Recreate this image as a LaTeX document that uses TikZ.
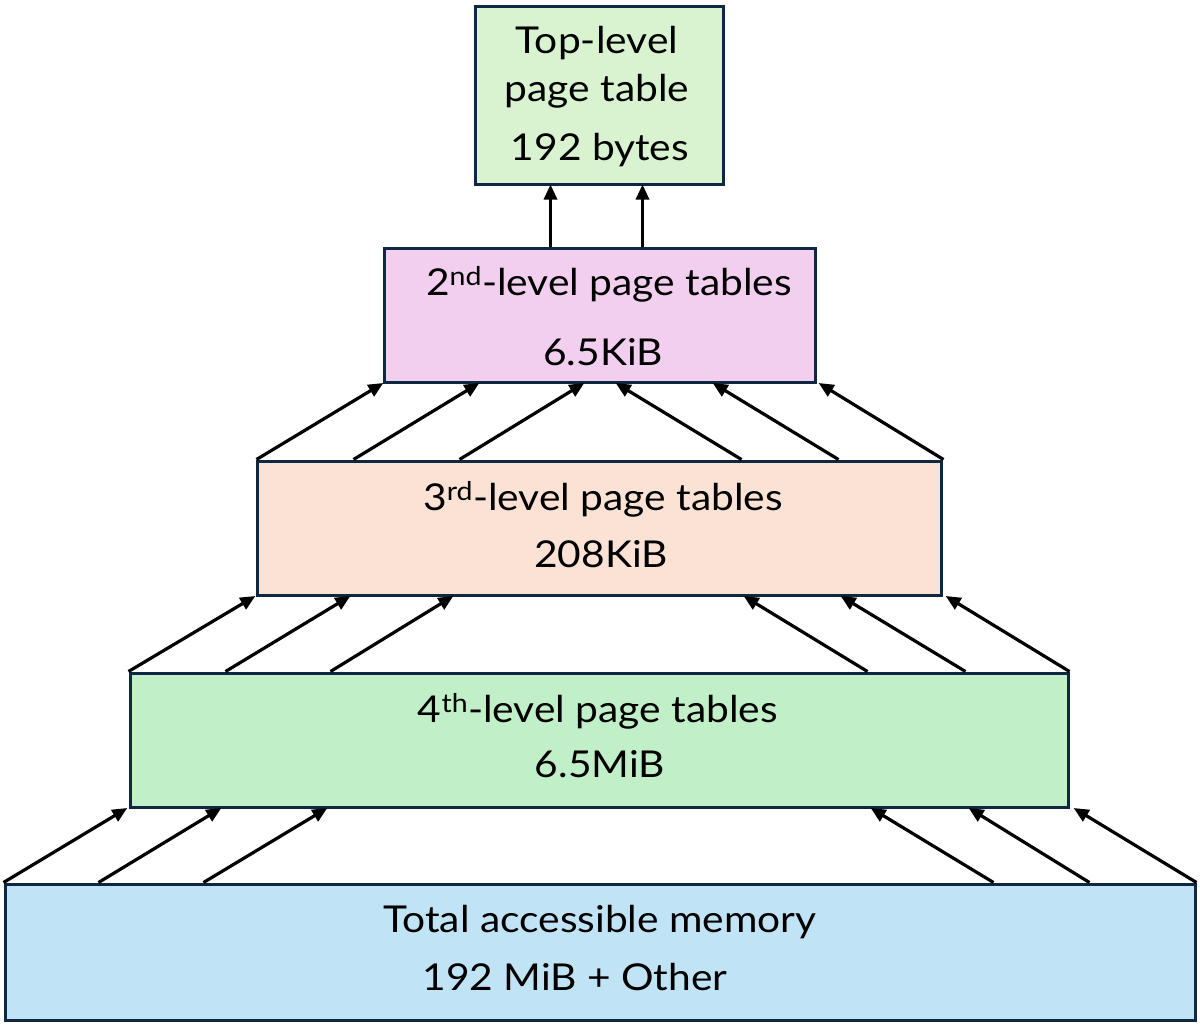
\documentclass[tikz,border=0pt]{standalone}
\usepackage{fontspec}
\setmainfont{Lato}[FakeStretch=1.1]
\usetikzlibrary{arrows.meta}
\definecolor{bordercol}{HTML}{0E2841}
\definecolor{topfill}{HTML}{D9F2D0}
\definecolor{ltwofill}{HTML}{F2CEEF}
\definecolor{lthreefill}{HTML}{FBE2D5}
\definecolor{lfourfill}{HTML}{C1F0C8}
\definecolor{memfill}{HTML}{C0E4F5}
\tikzset{
  box/.style={draw=bordercol, line width=3pt, rectangle, inner sep=0pt},
  lbl/.style={anchor=base, inner sep=0pt, font=\fontsize{37}{44}\selectfont},
  arr/.style={-{Triangle[length=15pt,width=13pt]}, line width=3.2pt, black, shorten >=-1pt},
}
\begin{document}
\begin{tikzpicture}[x=1pt,y=-1pt]
\useasboundingbox (0,0) rectangle (1200,1028);
% boxes
\node[box, fill=topfill, minimum width=248pt, minimum height=178pt] (top) at (599,95) {};
\node[box, fill=ltwofill, minimum width=431pt, minimum height=134pt] (l2) at (599.5,315) {};
\node[box, fill=lthreefill, minimum width=684pt, minimum height=134pt] (l3) at (599,528) {};
\node[box, fill=lfourfill, minimum width=938pt, minimum height=134pt] (l4) at (599,740) {};
\node[box, fill=memfill, minimum width=1190pt, minimum height=136pt] (mem) at (600,952) {};
% labels
\node[lbl] (t1) at (597,53) {Top-level};
\node[lbl] (t2) at (597,101) {page table};
\node[lbl] (t3) at (600,160) {192 bytes};
\node[lbl] (a1) at (609,295) {2\textsuperscript{nd}-level page tables};
\node[lbl] (a2) at (603,365) {6.5KiB};
\node[lbl] (b1) at (603,510) {3\textsuperscript{rd}-level page tables};
\node[lbl] (b2) at (601,567) {208KiB};
\node[lbl] (c1) at (598,722) {4\textsuperscript{th}-level page tables};
\node[lbl] (c2) at (600,777) {6.5MiB};
\node[lbl] (d1) at (600,932) {Total accessible memory};
\node[lbl] (d2) at (575,990) {192 MiB + Other};
% l2 -> top
\draw[arr] ([xshift=168pt]l2.north west) -- ([xshift=77pt]top.south west);
\draw[arr] ([xshift=260pt]l2.north west) -- ([xshift=169pt]top.south west);
% l3 -> l2
\draw[arr] ([xshift=1pt]l3.north west) -- ([xshift=0pt]l2.south west);
\draw[arr] ([xshift=98pt]l3.north west) -- ([xshift=96pt]l2.south west);
\draw[arr] ([xshift=204pt]l3.north west) -- ([xshift=201pt]l2.south west);
\draw[arr] ([xshift=-201pt]l3.north east) -- ([xshift=-200pt]l2.south east);
\draw[arr] ([xshift=-104pt]l3.north east) -- ([xshift=-103pt]l2.south east);
\draw[arr] ([xshift=1pt]l3.north east) -- ([xshift=3pt]l2.south east);
% l4 -> l3
\draw[arr] ([xshift=0pt]l4.north west) -- ([xshift=-1pt]l3.south west);
\draw[arr] ([xshift=97pt]l4.north west) -- ([xshift=94pt]l3.south west);
\draw[arr] ([xshift=202pt]l4.north west) -- ([xshift=197pt]l3.south west);
\draw[arr] ([xshift=-202pt]l4.north east) -- ([xshift=-198pt]l3.south east);
\draw[arr] ([xshift=-104pt]l4.north east) -- ([xshift=-101pt]l3.south east);
\draw[arr] ([xshift=0pt]l4.north east) -- ([xshift=4pt]l3.south east);
% mem -> l4
\draw[arr] ([xshift=0pt]mem.north west) -- ([xshift=-2pt]l4.south west);
\draw[arr] ([xshift=95pt]mem.north west) -- ([xshift=92pt]l4.south west);
\draw[arr] ([xshift=200pt]mem.north west) -- ([xshift=198pt]l4.south west);
\draw[arr] ([xshift=-203pt]mem.north east) -- ([xshift=-198pt]l4.south east);
\draw[arr] ([xshift=-107pt]mem.north east) -- ([xshift=-100pt]l4.south east);
\draw[arr] ([xshift=0pt]mem.north east) -- ([xshift=5pt]l4.south east);
\end{tikzpicture}
\end{document}
